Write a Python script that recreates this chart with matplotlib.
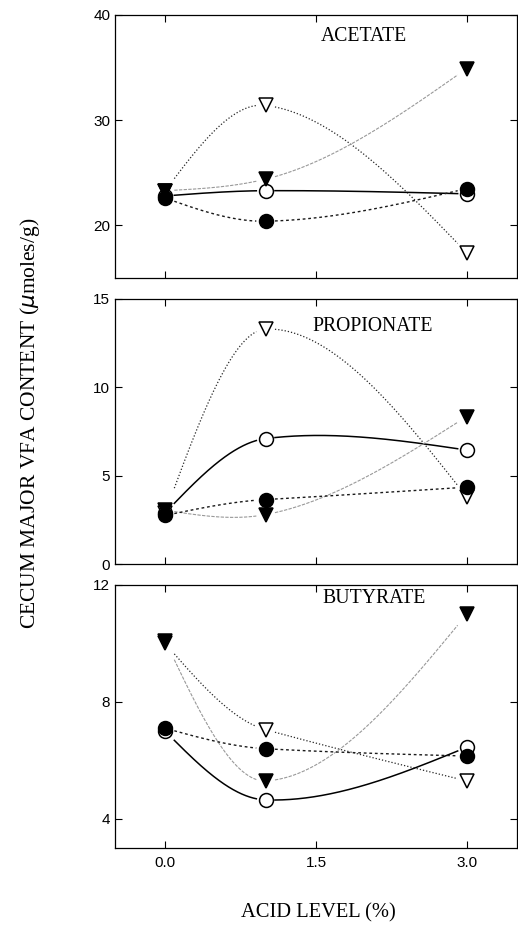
import numpy as np
import matplotlib
matplotlib.use("Agg")
import matplotlib.pyplot as plt

# ---- data ----
acid_level = [0.0, 1.0, 3.0]

acetate_filled_circle = [22.6, 20.4, 23.5]
acetate_open_circle = [22.8, 23.3, 23.0]
acetate_filled_tri = [23.3, 24.4, 34.9]
acetate_open_tri = [23.3, 31.4, 17.4]

propionate_filled_circle = [2.75, 3.65, 4.35]
propionate_open_circle = [2.9, 7.1, 6.45]
propionate_filled_tri = [3.05, 2.8, 8.35]
propionate_open_tri = [2.9, 13.3, 3.8]

butyrate_filled_circle = [7.1, 6.4, 6.15]
butyrate_open_circle = [7.0, 4.65, 6.45]
butyrate_filled_tri = [10.1, 5.3, 11.0]
butyrate_open_tri = [10.0, 7.05, 5.3]

panel_titles = ["ACETATE", "PROPIONATE", "BUTYRATE"]
x_ticks = [0.0, 1.5, 3.0]
x_tick_labels = ["0.0", "1.5", "3.0"]
y_ticks = [[20, 30, 40], [0, 5, 10, 15], [4, 8, 12]]
y_limits = [(15, 40), (0, 15), (3, 12)]


def smooth_curve(x, y, xs, k=0.6):
    """Cubic Hermite curve through the points; interior slopes are damped
    central differences, end slopes give zero curvature at the ends."""
    x = np.asarray(x, float)
    y = np.asarray(y, float)
    n = len(x)
    d = np.zeros(n)
    for i in range(1, n - 1):
        d[i] = k * (y[i + 1] - y[i - 1]) / (x[i + 1] - x[i - 1])
    s0 = (y[1] - y[0]) / (x[1] - x[0])
    sn = (y[-1] - y[-2]) / (x[-1] - x[-2])
    d[0] = (3 * s0 - d[1]) / 2
    d[-1] = (3 * sn - d[-2]) / 2
    out = np.empty_like(xs)
    for j, xv in enumerate(xs):
        i = min(max(np.searchsorted(x, xv) - 1, 0), n - 2)
        h = x[i + 1] - x[i]
        t = (xv - x[i]) / h
        h00 = 2 * t ** 3 - 3 * t ** 2 + 1
        h10 = t ** 3 - 2 * t ** 2 + t
        h01 = -2 * t ** 3 + 3 * t ** 2
        h11 = t ** 3 - t ** 2
        out[j] = h00 * y[i] + h10 * h * d[i] + h01 * y[i + 1] + h11 * h * d[i + 1]
    return out


panels = [
    [acetate_open_tri, acetate_open_circle, acetate_filled_tri, acetate_filled_circle],
    [propionate_open_tri, propionate_open_circle, propionate_filled_tri, propionate_filled_circle],
    [butyrate_open_tri, butyrate_open_circle, butyrate_filled_tri, butyrate_filled_circle],
]

styles = [
    dict(marker="v", mfc="white", mec="black", ls=(0, (1, 1.6)), color="0.15", lw=0.9),
    dict(marker="o", mfc="white", mec="black", ls="-", color="black", lw=1.1),
    dict(marker="v", mfc="black", mec="black", ls=(0, (3, 1.2)), color="0.6", lw=0.8),
    dict(marker="o", mfc="black", mec="black", ls=(0, (2, 2)), color="0.1", lw=1.0),
]

fig = plt.figure(figsize=(5.18, 9.3), dpi=100)
rects = [
    [0.222, 0.701, 0.776, 0.283],
    [0.222, 0.3935, 0.776, 0.285],
    [0.222, 0.088, 0.776, 0.283],
]
title_pos = [(0.512, 0.916), (0.49, 0.898), (0.517, 0.947)]

xs = np.linspace(0, 3, 600)
for p, (rect, series) in enumerate(zip(rects, panels)):
    ax = fig.add_axes(rect)
    for vals, st in zip(series, styles):
        ys = smooth_curve(acid_level, vals, xs)
        mask = np.zeros_like(xs, dtype=bool)
        for xi in acid_level:
            mask |= np.abs(xs - xi) < 0.09
        ys[mask] = np.nan
        ax.plot(xs, ys, ls=st["ls"], color=st["color"], lw=st["lw"], zorder=2)
    for vals, st in zip(series, styles):
        ax.plot(acid_level, vals, ls="none", marker=st["marker"], ms=10,
                mfc=st["mfc"], mec=st["mec"], mew=1.1, zorder=3)
    ax.set_xlim(-0.5, 3.5)
    ax.set_ylim(*y_limits[p])
    ax.set_yticks(y_ticks[p])
    ax.set_xticks(x_ticks)
    ax.tick_params(direction="in", top=True, right=True, length=5, width=0.8,
                   labelsize=11)
    for lab in ax.get_yticklabels():
        lab.set_family("Liberation Sans")
    if p == 2:
        ax.set_xticklabels(x_tick_labels, family="Liberation Sans")
        ax.tick_params(axis="x", pad=6)
    else:
        ax.set_xticklabels([])
    for s in ax.spines.values():
        s.set_linewidth(0.9)
    ax.text(title_pos[p][0], title_pos[p][1], panel_titles[p], transform=ax.transAxes,
            ha="left", va="center", family="Liberation Serif", fontsize=14.2)

fig.text(0.058, 0.545, "CECUM MAJOR VFA CONTENT ($\\mu$moles/g)", rotation=90,
         ha="center", va="center", family="Liberation Serif", fontsize=15.5)
fig.text(0.614, 0.018, "ACID LEVEL (%)", ha="center", va="center",
         family="Liberation Serif", fontsize=14.8)

fig.savefig("out.png", dpi=100)
